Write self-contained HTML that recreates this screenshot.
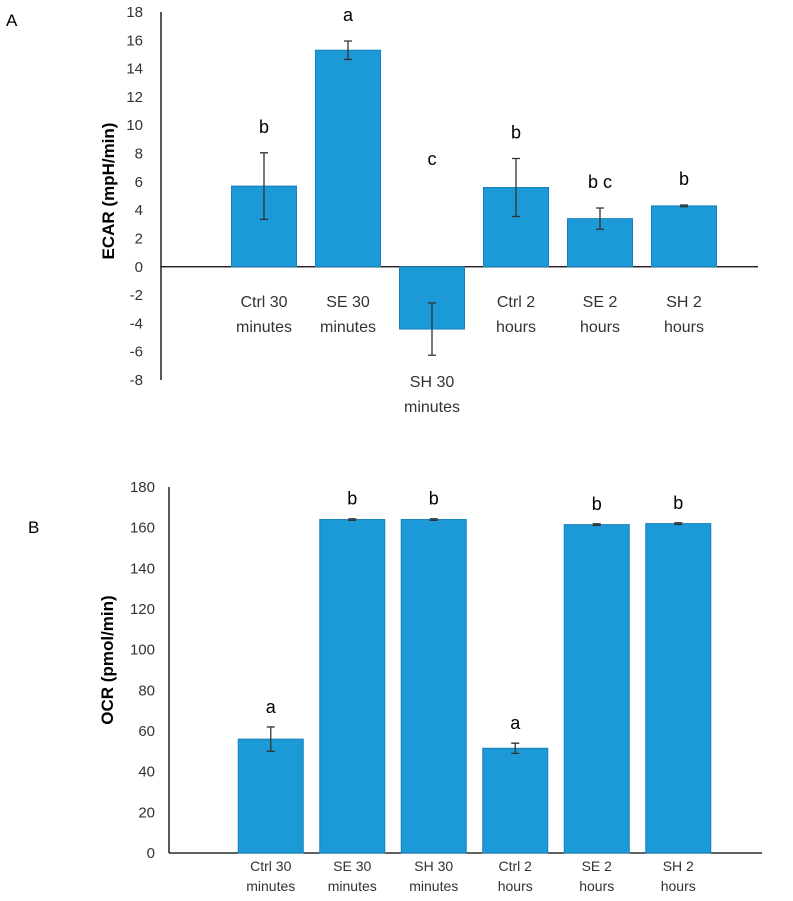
<!DOCTYPE html>
<html><head><meta charset="utf-8"><style>
body{margin:0;background:#fff;}
svg{display:block;font-family:"Liberation Sans",Arial,sans-serif;}
</style></head><body>
<svg id="s" width="793" height="901"></svg>
<script>
const catsA=["Ctrl 30|minutes","SE 30|minutes","SH 30|minutes","Ctrl 2|hours","SE 2|hours","SH 2|hours"];
const valsA=[5.7,15.3,-4.4,5.6,3.4,4.3];
const errA=[2.35,0.65,1.85,2.05,0.75,0.06];
const lettersA=["b","a","c","b","b c","b"];
const ticksA=[18,16,14,12,10,8,6,4,2,0,-2,-4,-6,-8];
const catsB=["Ctrl 30|minutes","SE 30|minutes","SH 30|minutes","Ctrl 2|hours","SE 2|hours","SH 2|hours"];
const valsB=[56,164,164,51.5,161.5,162];
const errB=[6,0.4,0.4,2.5,0.4,0.4];
const lettersB=["a","b","b","a","b","b"];
const ticksB=[180,160,140,120,100,80,60,40,20,0];
const NS="http://www.w3.org/2000/svg";
const svg=document.getElementById("s");
function mk(t,a,p){const e=document.createElementNS(NS,t);for(const k in a)e.setAttribute(k,a[k]);(p||svg).appendChild(e);return e;}
function txt(x,y,s,a,p){const e=mk("text",Object.assign({x:x,y:y},a),p);e.textContent=s;return e;}
function chart(o){
  const g=mk("g",{});
  
  
  const y=v=>o.y0+(v-o.vmax)*(o.y1-o.y0)/(o.vmin-o.vmax);
  const x=i=>o.x0+o.step*(i+0.5);
  const ax=mk("line",{x1:o.ax,x2:o.ax,y1:y(o.vmax),y2:y(o.vmin),stroke:"#000","stroke-width":1.3},g);
  
  o.ticks.forEach(t=>{
    const tl=txt(o.tickX,y(t)+5,String(t),{"text-anchor":"end","font-size":15,fill:"#333"},g);
    
  });
  const xa=mk("line",{x1:o.ax,x2:o.xend,y1:y(0),y2:y(0),stroke:"#000","stroke-width":1.3},g);
  
  o.vals.forEach((v,i)=>{
    const cx=x(i),top=y(Math.max(v,0)),bot=y(Math.min(v,0));
    const r=mk("rect",{x:cx-o.bw/2,y:top,width:o.bw,height:bot-top,fill:"#1b9ad7",stroke:"#1680b8","stroke-width":1},g);
    
    const e=o.err[i],a=y(v+e),b=y(v-e);
    const eb=mk("path",{d:`M${cx},${a}V${b}M${cx-4},${a}H${cx+4}M${cx-4},${b}H${cx+4}`,stroke:"#333","stroke-width":1.3,fill:"none"},g);
    
    const ly=o.letterY(v,e,y);
    const lt=txt(cx,ly,o.letters[i],{"text-anchor":"middle","font-size":18,fill:"#000"},g);
    
    const lines=o.cats[i].split("|");
    const by=v<0?y(v-e)+32:y(0)+o.labOff;
    lines.forEach((s,k)=>{
      const c=txt(cx,by+k*o.lineH,s,{"text-anchor":"middle","font-size":o.catSize,fill:"#333"},g);
      
    });
  });
  const tt=txt(0,0,o.title,{"text-anchor":"middle","font-size":17,"font-weight":"bold",transform:`translate(${o.tx},${o.ty}) rotate(-90)`},g);
  
}
chart({name:"ecar-chart",ax:161,tickX:143,x0:222,step:84,bw:65,y0:12,y1:380,vmax:18,vmin:-8,ticks:ticksA,vals:valsA,err:errA,letters:lettersA,cats:catsA,xend:758,catSize:16,labOff:40,lineH:25,
  title:"ECAR (mpH/min)",tx:114,ty:191,
  letterY:(v,e,y)=>v<0?y(0)-102:y(v+e)-20});
chart({name:"ocr-chart",ax:169,tickX:155,x0:230,step:81.5,bw:65,y0:487,y1:853,vmax:180,vmin:0,ticks:ticksB,vals:valsB,err:errB,letters:lettersB,cats:catsB,xend:762,catSize:14,labOff:18,lineH:20,
  title:"OCR (pmol/min)",tx:113,ty:660,
  letterY:(v,e,y)=>y(v+e)-14});
const A=txt(6,26,"A",{"font-size":17});
const B=txt(28,533,"B",{"font-size":17});
</script>
</body></html>
